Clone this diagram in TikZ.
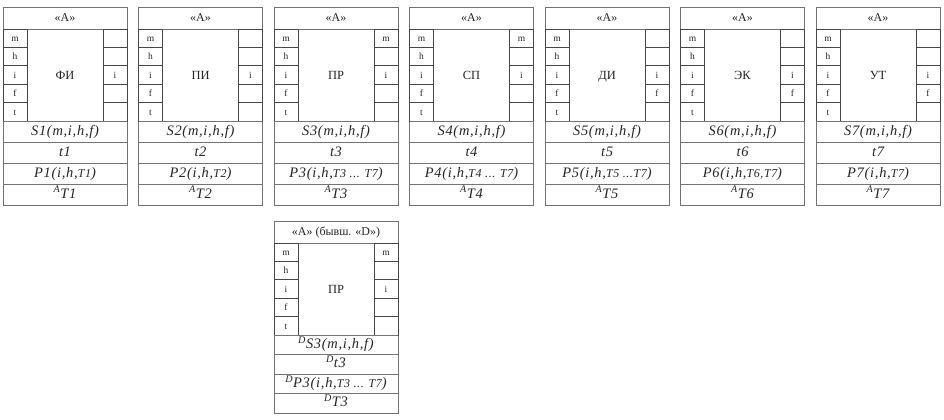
\documentclass[tikz,border=0pt]{standalone}
\usepackage{fontspec}
\setmainfont{Liberation Serif}
\newfontfamily\rowfamily{Liberation Serif}[LetterSpace=5]

% smaller index text and superscript prefix
\newcommand\lowT[1]{{\fontsize{12}{12}\selectfont #1}}
\newcommand\supA[1]{\textsuperscript{#1}}

\tikzset{
  outline/.style={draw=black!55, line width=0.9bp},
  cellline/.style={draw=black!72, line width=0.9bp},
  headtext/.style={inner sep=0pt, text=black!85, font=\fontsize{12}{12}\selectfont,
    text height=8.5bp, text depth=2.5bp},
  midtext/.style={inner sep=0pt, text=black!85, font=\fontsize{12.5}{12.5}\selectfont,
    text height=8.5bp, text depth=0bp},
  celltext/.style={inner sep=0pt, text=black!85, font=\fontsize{9.5}{9.5}\selectfont,
    text height=6.5bp, text depth=0bp},
  rowtext/.style={inner sep=0pt, text=black!85, font=\rowfamily\itshape\fontsize{14.5}{14.5}\selectfont,
    text height=10bp, text depth=3bp},
}

% #1 x, #2 y (top), #3 name, #4 header, #5 label, #6 right cells, #7 rows, #8 row height
\newcommand\drawblock[8]{%
  \begin{scope}[shift={(#1,#2)}]
    \pgfmathsetmacro\blkrow{#8}
    \pgfmathsetmacro\blkH{114+4*\blkrow}
    \draw[outline] (0,0) rectangle (124,\blkH);
    \draw[outline] (0,22) -- (124,22);
    \node[headtext] (#3-head) at (62,11) {#4};
    \node[midtext] (#3-mid) at (62,68) {#5};
    \foreach \c [count=\k from 0] in {m,h,i,f,t} {
      \draw[cellline] (0,22+\k*18.4) rectangle (24,22+\k*18.4+18.4);
      \node[celltext] (#3-l\k) at (12,31.2+\k*18.4) {\c};
    }
    \foreach \c [count=\k from 0] in {#6} {
      \draw[cellline] (100,22+\k*18.4) rectangle (124,22+\k*18.4+18.4);
      \node[celltext] (#3-r\k) at (112,31.2+\k*18.4) {\c};
    }
    \foreach \r [count=\k from 0] in {#7} {
      \draw[outline] (0,114+\k*\blkrow) -- (124,114+\k*\blkrow);
      \node[rowtext] (#3-row\k) at (62,114+\k*\blkrow+\blkrow/2) {\r};
    }
  \end{scope}}

\begin{document}
\begin{tikzpicture}[x=1bp,y=-1bp]
  \useasboundingbox (0,0) rectangle (944,419);
  \fill[white] (0,0) rectangle (944,419);

  \drawblock{3}{7}{b1}{«A»}{ФИ}{{},{},i,{},{}}
    {{S1(m,i,h,f)},{t1},{P1(i,h,\lowT{T1})},{\supA{A}T1}}{21}
  \drawblock{138.5}{7}{b2}{«A»}{ПИ}{{},{},i,{},{}}
    {{S2(m,i,h,f)},{t2},{P2(i,h,\lowT{T2})},{\supA{A}T2}}{21}
  \drawblock{274}{7}{b3}{«A»}{ПР}{m,{},i,{},{}}
    {{S3(m,i,h,f)},{t3},{P3(i,h,\lowT{T3 ... T7})},{\supA{A}T3}}{21}
  \drawblock{409.5}{7}{b4}{«A»}{СП}{m,{},i,{},{}}
    {{S4(m,i,h,f)},{t4},{P4(i,h,\lowT{T4 ... T7})},{\supA{A}T4}}{21}
  \drawblock{545}{7}{b5}{«A»}{ДИ}{{},{},i,f,{}}
    {{S5(m,i,h,f)},{t5},{P5(i,h,\lowT{T5 ...T7})},{\supA{A}T5}}{21}
  \drawblock{680.5}{7}{b6}{«A»}{ЭК}{{},{},i,f,{}}
    {{S6(m,i,h,f)},{t6},{P6(i,h,\lowT{T6,T7})},{\supA{A}T6}}{21}
  \drawblock{816}{7}{b7}{«A»}{УТ}{{},{},i,f,{}}
    {{S7(m,i,h,f)},{t7},{P7(i,h,\lowT{T7})},{\supA{A}T7}}{21}

  \drawblock{274}{221}{b8}{«A» (бывш. «D»)}{ПР}{m,{},i,{},{}}
    {{\supA{D}S3(m,i,h,f)},{\supA{D}t3},{\supA{D}P3(i,h,\lowT{T3 ... T7})},{\supA{D}T3}}{19.5}
\end{tikzpicture}
\end{document}
